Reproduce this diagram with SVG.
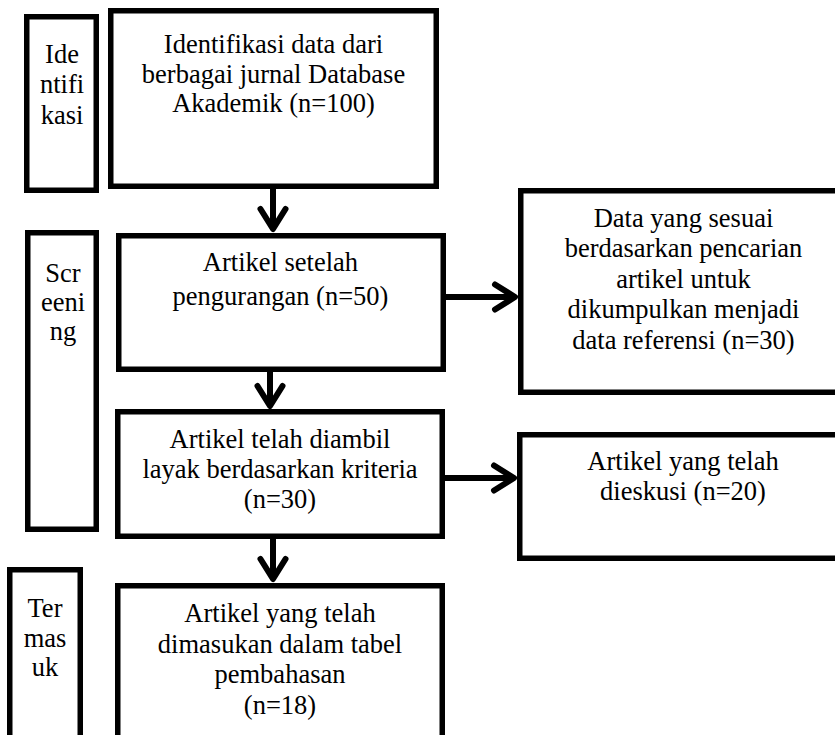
<svg xmlns="http://www.w3.org/2000/svg" width="835" height="735" viewBox="0 0 835 735">
<defs>
<style>
.box{fill:#fff;stroke:#000;stroke-width:5.5}
.t{font-family:'Liberation Serif','Times New Roman','DejaVu Serif',serif;font-size:26.5px;fill:#000;text-anchor:middle}
.conn{stroke:#000;stroke-width:6;fill:none}
</style>
<marker id="chev" markerUnits="userSpaceOnUse" viewBox="-26 -18 32 36" refX="0" refY="0" markerWidth="32" markerHeight="36" orient="auto" overflow="visible">
<path d="M-20,-12.5 L0,0 L-20,12.5" fill="none" stroke="#000" stroke-width="6" stroke-linecap="round" stroke-linejoin="round"/>
</marker>
</defs>
<rect width="835" height="735" fill="#fff"/>

<g font-family="Liberation Serif, Times New Roman, DejaVu Serif, serif">
<g id="label-identifikasi">
<rect class="box" x="26.75" y="16.75" width="69.5" height="173.5"/>
<text class="t" x="62" y="62.5">Ide</text>
<text class="t" x="62" y="93">ntifi</text>
<text class="t" x="62" y="123.5">kasi</text>
</g>
<g id="label-screening">
<rect class="box" x="27.75" y="232.75" width="68.5" height="296.5"/>
<text class="t" x="63" y="282">Scr</text>
<text class="t" x="63" y="311">eeni</text>
<text class="t" x="63" y="340">ng</text>
</g>
<g id="label-termasuk">
<rect class="box" x="9.75" y="569.75" width="70.5" height="200"/>
<text class="t" x="45" y="617">Ter</text>
<text class="t" x="45" y="647">mas</text>
<text class="t" x="45" y="676">uk</text>
</g>

<g id="node-identifikasi">
<rect class="box" x="110.75" y="10.75" width="325.5" height="175.5"/>
<text class="t" x="273.5" y="53">Identifikasi data dari</text>
<text class="t" x="273.5" y="82.5">berbagai jurnal Database</text>
<text class="t" x="273.5" y="112">Akademik (n=100)</text>
</g>
<g id="node-pengurangan">
<rect class="box" x="118.75" y="235.75" width="324.5" height="133.5"/>
<text class="t" x="280.5" y="271">Artikel setelah</text>
<text class="t" x="280.5" y="305">pengurangan (n=50)</text>
</g>
<g id="node-layak">
<rect class="box" x="117.75" y="411.75" width="324.5" height="124.5"/>
<text class="t" x="280" y="448">Artikel telah diambil</text>
<text class="t" x="280" y="478">layak berdasarkan kriteria</text>
<text class="t" x="280" y="508">(n=30)</text>
</g>
<g id="node-termasuk">
<rect class="box" x="117.75" y="585.75" width="324.5" height="200"/>
<text class="t" x="280" y="622">Artikel yang telah</text>
<text class="t" x="280" y="652.5">dimasukan dalam tabel</text>
<text class="t" x="280" y="683">pembahasan</text>
<text class="t" x="280" y="713.5">(n=18)</text>
</g>
<g id="node-referensi">
<rect class="box" x="520.75" y="190.75" width="330" height="201.5"/>
<text class="t" x="683.5" y="226.5">Data yang sesuai</text>
<text class="t" x="683.5" y="257">berdasarkan pencarian</text>
<text class="t" x="683.5" y="287.5">artikel untuk</text>
<text class="t" x="683.5" y="318">dikumpulkan menjadi</text>
<text class="t" x="683.5" y="348.5">data referensi (n=30)</text>
</g>
<g id="node-dieskusi">
<rect class="box" x="519.75" y="434.75" width="330" height="123.5"/>
<text class="t" x="683" y="470">Artikel yang telah</text>
<text class="t" x="683" y="500">dieskusi (n=20)</text>
</g>
</g>

<g id="connectors">
<path class="conn" d="M273,189 L273,229" marker-end="url(#chev)"/>
<path class="conn" d="M270,372 L270,406" marker-end="url(#chev)"/>
<path class="conn" d="M273,539 L273,579" marker-end="url(#chev)"/>
<path class="conn" d="M446,297 L515,297" marker-end="url(#chev)"/>
<path class="conn" d="M445,478 L514,478" marker-end="url(#chev)"/>
</g>
</svg>
